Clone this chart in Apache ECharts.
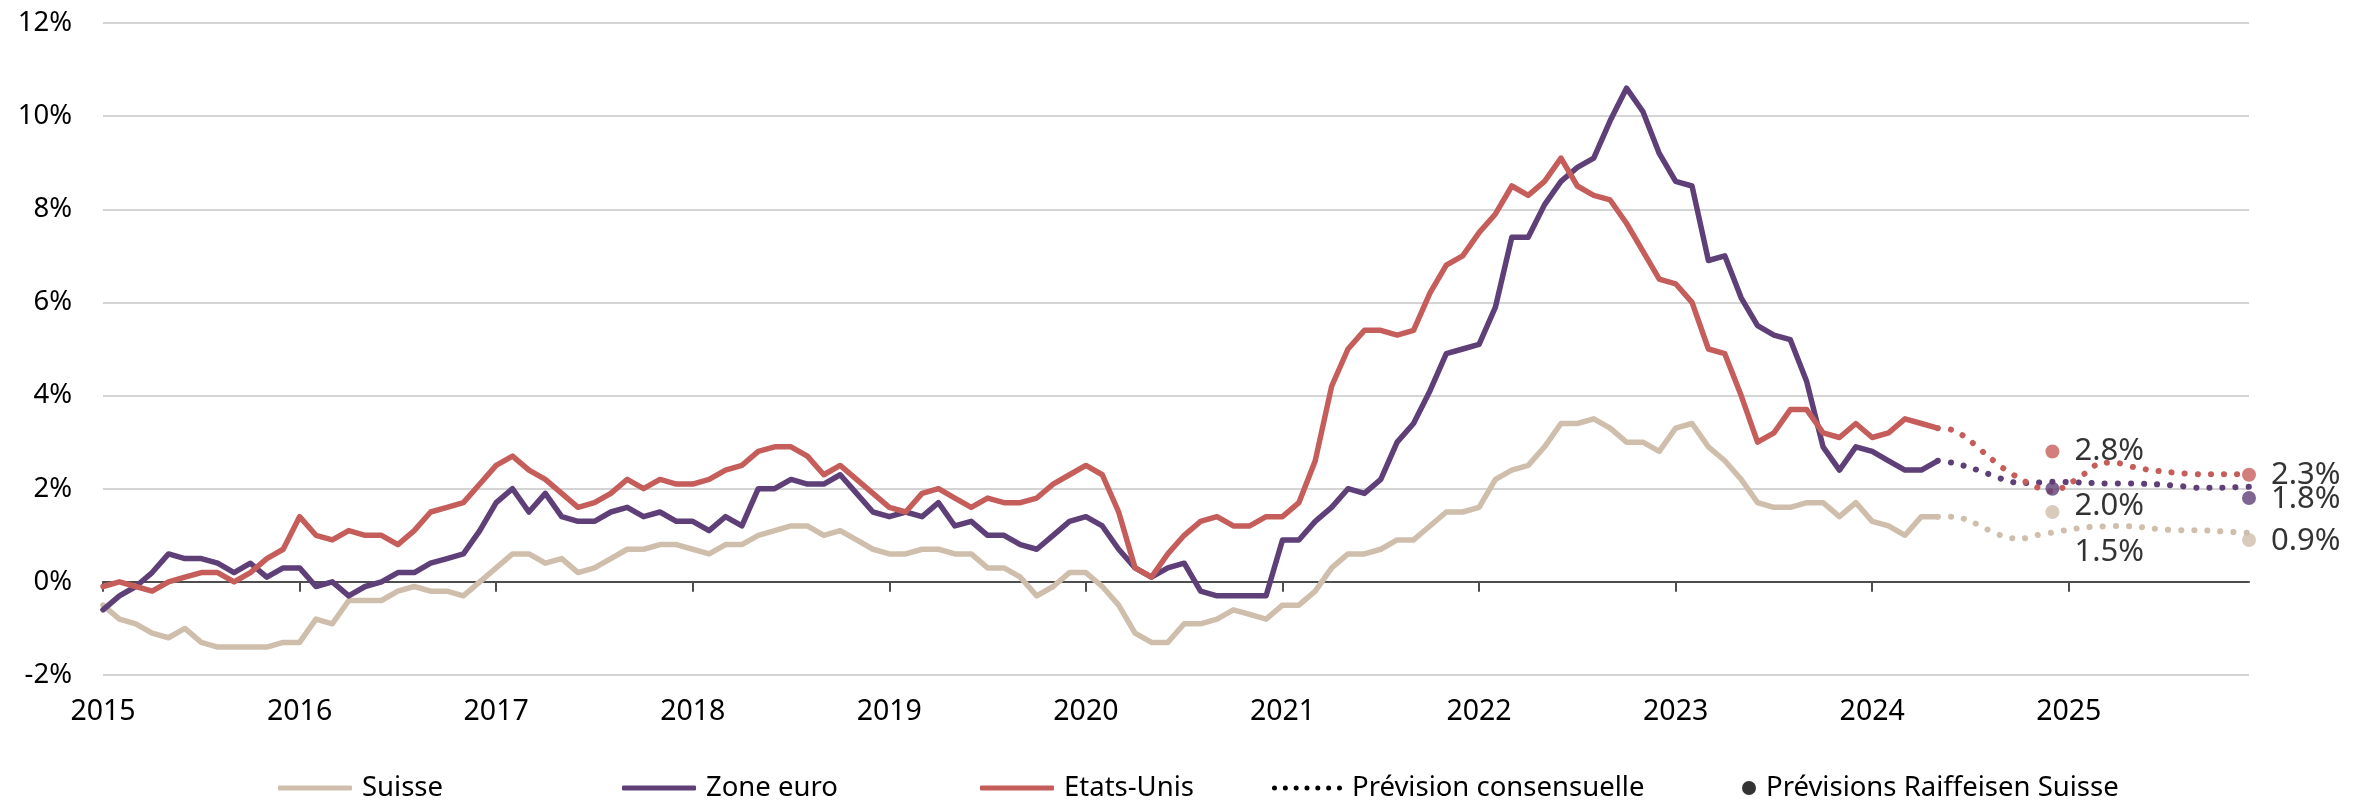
<!DOCTYPE html>
<html>
<head>
<meta charset="utf-8">
<script src="https://cdn.jsdelivr.net/npm/echarts@6/dist/echarts.min.js"></script>
<style>
  html, body { margin: 0; padding: 0; background: #fff; }
  #chart { width: 2371px; height: 800px; }
</style>
</head>
<body>
<div id="chart"></div>
<script>
// axe des temps : mensuel, janv. 2015 - déc. 2025
const years = ["2015", "2016", "2017", "2018", "2019", "2020", "2021", "2022", "2023", "2024", "2025"];
const yTicks = [-2, 0, 2, 4, 6, 8, 10, 12];

// inflation annuelle en %, janv. 2015 - mai 2024
const suisse = [
  -0.5, -0.8, -0.9, -1.1, -1.2, -1.0, -1.3, -1.4, -1.4, -1.4, -1.4, -1.3,
  -1.3, -0.8, -0.9, -0.4, -0.4, -0.4, -0.2, -0.1, -0.2, -0.2, -0.3, 0.0,
  0.3, 0.6, 0.6, 0.4, 0.5, 0.2, 0.3, 0.5, 0.7, 0.7, 0.8, 0.8,
  0.7, 0.6, 0.8, 0.8, 1.0, 1.1, 1.2, 1.2, 1.0, 1.1, 0.9, 0.7,
  0.6, 0.6, 0.7, 0.7, 0.6, 0.6, 0.3, 0.3, 0.1, -0.3, -0.1, 0.2,
  0.2, -0.1, -0.5, -1.1, -1.3, -1.3, -0.9, -0.9, -0.8, -0.6, -0.7, -0.8,
  -0.5, -0.5, -0.2, 0.3, 0.6, 0.6, 0.7, 0.9, 0.9, 1.2, 1.5, 1.5,
  1.6, 2.2, 2.4, 2.5, 2.9, 3.4, 3.4, 3.5, 3.3, 3.0, 3.0, 2.8,
  3.3, 3.4, 2.9, 2.6, 2.2, 1.7, 1.6, 1.6, 1.7, 1.7, 1.4, 1.7,
  1.3, 1.2, 1.0, 1.4, 1.4
];
const zoneEuro = [
  -0.6, -0.3, -0.1, 0.2, 0.6, 0.5, 0.5, 0.4, 0.2, 0.4, 0.1, 0.3,
  0.3, -0.1, 0.0, -0.3, -0.1, 0.0, 0.2, 0.2, 0.4, 0.5, 0.6, 1.1,
  1.7, 2.0, 1.5, 1.9, 1.4, 1.3, 1.3, 1.5, 1.6, 1.4, 1.5, 1.3,
  1.3, 1.1, 1.4, 1.2, 2.0, 2.0, 2.2, 2.1, 2.1, 2.3, 1.9, 1.5,
  1.4, 1.5, 1.4, 1.7, 1.2, 1.3, 1.0, 1.0, 0.8, 0.7, 1.0, 1.3,
  1.4, 1.2, 0.7, 0.3, 0.1, 0.3, 0.4, -0.2, -0.3, -0.3, -0.3, -0.3,
  0.9, 0.9, 1.3, 1.6, 2.0, 1.9, 2.2, 3.0, 3.4, 4.1, 4.9, 5.0,
  5.1, 5.9, 7.4, 7.4, 8.1, 8.6, 8.9, 9.1, 9.9, 10.6, 10.1, 9.2,
  8.6, 8.5, 6.9, 7.0, 6.1, 5.5, 5.3, 5.2, 4.3, 2.9, 2.4, 2.9,
  2.8, 2.6, 2.4, 2.4, 2.6
];
const etatsUnis = [
  -0.1, 0.0, -0.1, -0.2, 0.0, 0.1, 0.2, 0.2, 0.0, 0.2, 0.5, 0.7,
  1.4, 1.0, 0.9, 1.1, 1.0, 1.0, 0.8, 1.1, 1.5, 1.6, 1.7, 2.1,
  2.5, 2.7, 2.4, 2.2, 1.9, 1.6, 1.7, 1.9, 2.2, 2.0, 2.2, 2.1,
  2.1, 2.2, 2.4, 2.5, 2.8, 2.9, 2.9, 2.7, 2.3, 2.5, 2.2, 1.9,
  1.6, 1.5, 1.9, 2.0, 1.8, 1.6, 1.8, 1.7, 1.7, 1.8, 2.1, 2.3,
  2.5, 2.3, 1.5, 0.3, 0.1, 0.6, 1.0, 1.3, 1.4, 1.2, 1.2, 1.4,
  1.4, 1.7, 2.6, 4.2, 5.0, 5.4, 5.4, 5.3, 5.4, 6.2, 6.8, 7.0,
  7.5, 7.9, 8.5, 8.3, 8.6, 9.1, 8.5, 8.3, 8.2, 7.7, 7.1, 6.5,
  6.4, 6.0, 5.0, 4.9, 4.0, 3.0, 3.2, 3.7, 3.7, 3.2, 3.1, 3.4,
  3.1, 3.2, 3.5, 3.4, 3.3
];

// prévision consensuelle, mai 2024 - déc. 2025
const suisseConsensus = [1.4, 1.4, 1.3, 1.13, 0.98, 0.92, 1.0, 1.06, 1.12, 1.17, 1.19, 1.2, 1.19, 1.15, 1.12, 1.11, 1.11, 1.09, 1.07, 1.05];
const euroConsensus = [2.6, 2.55, 2.45, 2.33, 2.2, 2.12, 2.13, 2.15, 2.14, 2.13, 2.11, 2.11, 2.11, 2.1, 2.08, 2.05, 2.02, 2.02, 2.03, 2.04];
const usConsensus = [3.3, 3.25, 3.02, 2.72, 2.44, 2.22, 2.04, 1.94, 2.1, 2.33, 2.56, 2.55, 2.46, 2.4, 2.36, 2.33, 2.31, 2.31, 2.31, 2.31];

// prévisions Raiffeisen Suisse, déc. 2024 et déc. 2025
const raiffeisenMonths = ["2024-12", "2025-12"];
const suisseRaiffeisen = [1.5, 0.9];
const euroRaiffeisen = [2.0, 1.8];
const usRaiffeisen = [2.8, 2.3];

const categories = [];
years.forEach((y) => {
  for (let m = 1; m <= 12; m++) categories.push(y + "-" + String(m).padStart(2, "0"));
});

const FONT = "Noto Sans";
const TEXT = "#000000";
const colors = { suisse: "#cfbeab", euro: "#5f3f77", us: "#c55e5b" };

const pad = (arr) => new Array(categories.length - arr.length).fill(null).concat(arr);

const solid = (name, data, color) => ({
  name: name,
  type: "line",
  data: data,
  symbol: "none",
  lineStyle: { color: color, width: 5.5, join: "round", cap: "round" },
  itemStyle: { color: color },
  z: 3,
});

const dotted = (name, data, color) => ({
  name: name,
  type: "line",
  data: pad(data),
  symbol: "none",
  smooth: 0.3,
  lineStyle: { color: color, width: 6, type: [0.1, 13], cap: "round" },
  itemStyle: { color: color },
  z: 3,
});

// decalage vertical des etiquettes (dec. 2024 / dec. 2025)
const dots = (name, values, color, offsets) => ({
  name: name,
  type: "scatter",
  symbol: "circle",
  symbolSize: 14,
  itemStyle: { color: color },
  z: 5,
  data: values.map((v, k) => ({
    value: [categories.indexOf(raiffeisenMonths[k]), v],
    label: { offset: [0, offsets[k]] },
  })),
  label: {
    show: true,
    position: "right",
    distance: 15,
    color: TEXT,
    fontFamily: FONT,
    fontSize: 31,
    formatter: (p) => p.value[1].toFixed(1) + "%",
  },
});

const dottedIcon =
  "path://" +
  [0, 1, 2, 3, 4, 5, 6]
    .map((k) => {
      const cx = 2.5 + k * 10.83;
      return "M" + (cx - 2.5) + ",2.5a2.5,2.5 0 1,0 5,0a2.5,2.5 0 1,0 -5,0Z";
    })
    .join("");

const legendBase = {
  orient: "horizontal",
  top: 769,
  selectedMode: false,
  itemHeight: 5,
  itemWidth: 74,
  textStyle: { color: TEXT, fontFamily: FONT, fontSize: 27.5, padding: [0, 0, 0, 5] },
};

const chart = echarts.init(document.getElementById("chart"));

chart.setOption({
  animation: false,
  backgroundColor: "#ffffff",
  grid: { left: 103, right: 122, top: 23, bottom: 125, containLabel: false, outerBoundsMode: "none" },
  legend: [
    Object.assign({}, legendBase, { left: 273, data: [{ name: "Suisse", icon: "roundRect", itemStyle: { color: colors.suisse } }] }),
    Object.assign({}, legendBase, { left: 617, data: [{ name: "Zone euro", icon: "roundRect", itemStyle: { color: colors.euro } }] }),
    Object.assign({}, legendBase, { left: 975, data: [{ name: "Etats-Unis", icon: "roundRect", itemStyle: { color: colors.us } }] }),
    Object.assign({}, legendBase, {
      left: 1267,
      itemWidth: 70,
      data: [{ name: "Prévision consensuelle", icon: dottedIcon, itemStyle: { color: "#000" } }],
    }),
    Object.assign({}, legendBase, {
      left: 1737,
      itemWidth: 14,
      itemHeight: 14,
      data: [{ name: "Prévisions Raiffeisen Suisse", icon: "circle", itemStyle: { color: "#000" } }],
    }),
  ],
  xAxis: {
    type: "category",
    data: categories,
    boundaryGap: false,
    axisLine: { onZero: true, lineStyle: { color: "#4d4d4d", width: 2 } },
    axisTick: {
      show: true,
      length: 10,
      interval: (idx) => idx % 12 === 0,
      lineStyle: { color: "#4d4d4d", width: 2 },
    },
    axisLabel: {
      interval: (idx) => idx % 12 === 0,
      formatter: (v) => v.slice(0, 4),
      margin: 22,
      color: TEXT,
      fontFamily: FONT,
      fontSize: 28.5,
    },
    splitLine: { show: false },
  },
  yAxis: {
    type: "value",
    min: yTicks[0],
    max: yTicks[yTicks.length - 1],
    interval: 2,
    axisLine: { show: false },
    axisTick: { show: false },
    axisLabel: {
      formatter: (v) => v + "%",
      margin: 31,
      color: TEXT,
      fontFamily: FONT,
      fontSize: 27.5,
    },
    splitLine: { lineStyle: { color: "#c6c6c6", width: 1.5 } },
  },
  series: [
    solid("Suisse", suisse, colors.suisse),
    solid("Zone euro", zoneEuro, colors.euro),
    solid("Etats-Unis", etatsUnis, colors.us),
    dotted("Suisse consensus", suisseConsensus, colors.suisse),
    dotted("Zone euro consensus", euroConsensus, colors.euro),
    dotted("Etats-Unis consensus", usConsensus, colors.us),
    dots("Suisse Raiffeisen", suisseRaiffeisen, colors.suisse, [40, 1]),
    dots("Zone euro Raiffeisen", euroRaiffeisen, colors.euro, [17, 1]),
    dots("Etats-Unis Raiffeisen", usRaiffeisen, colors.us, [0, 0]),
    { name: "Prévision consensuelle", type: "line", data: [], itemStyle: { color: "#000" } },
    { name: "Prévisions Raiffeisen Suisse", type: "scatter", data: [], itemStyle: { color: "#000" } },
  ],
});

window.addEventListener("resize", () => chart.resize());
</script>
</body>
</html>
